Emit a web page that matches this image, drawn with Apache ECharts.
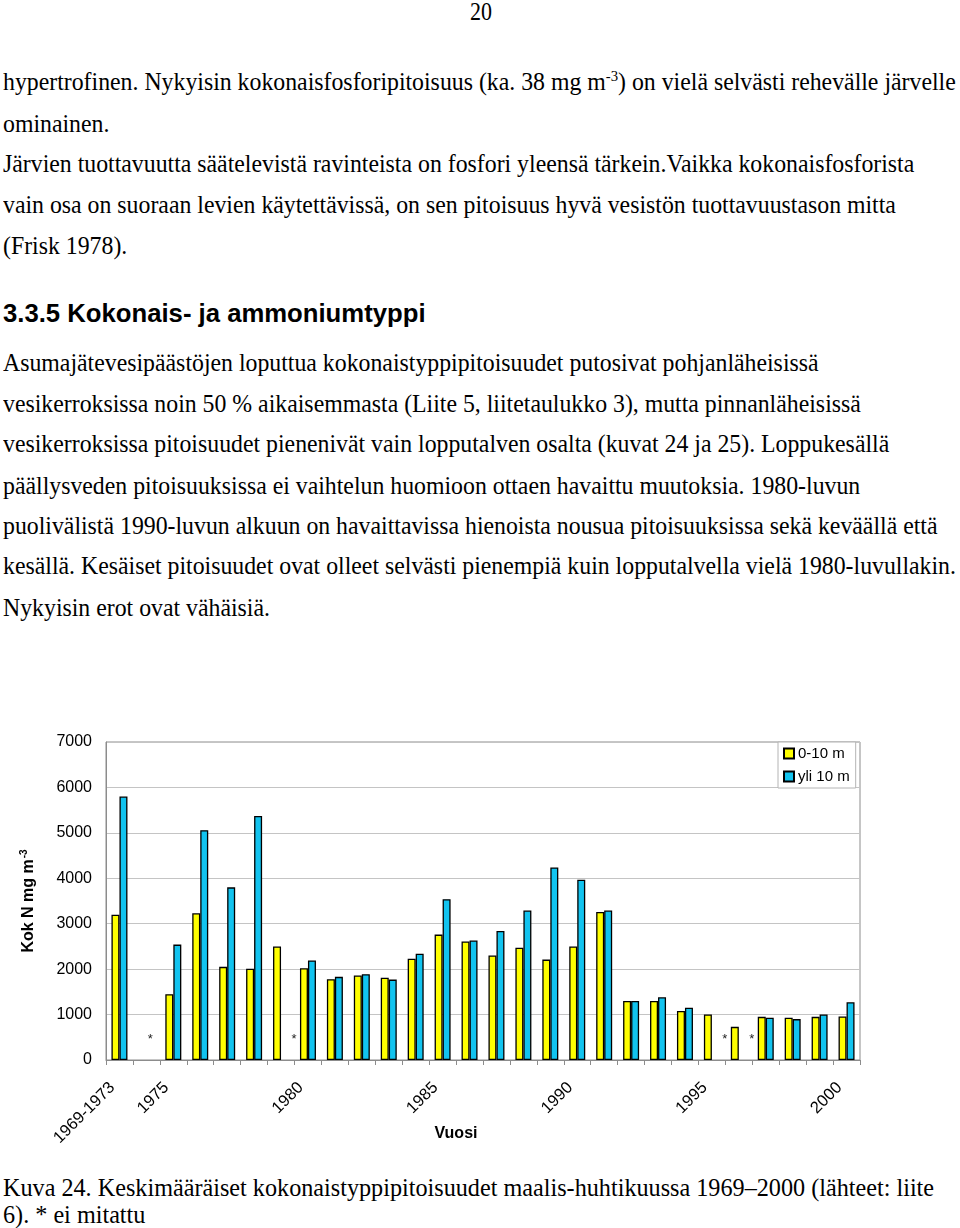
<!DOCTYPE html>
<html>
<head>
<meta charset="utf-8">
<script src="https://cdn.jsdelivr.net/npm/echarts@6/dist/echarts.min.js"></script>
<style>
  html, body { margin: 0; padding: 0; background: #fff; }
  body { width: 960px; height: 1228px; position: relative; overflow: hidden; }
  .ln { position: absolute; white-space: nowrap; color: #000; line-height: 1; }
  .serif { font-family: "Liberation Serif", "Times New Roman", serif; }
  .head { font-family: "Liberation Sans", Arial, sans-serif; font-weight: bold; }
  sup { font-size: 0.62em; vertical-align: 0.55em; line-height: 0; }
  #chart { position: absolute; left: 0; top: 700px; width: 960px; height: 470px; }
</style>
</head>
<body>
<div id="text"></div>
<div id="chart"></div>
<script>
// ---- chart data ----
const categories = ['1969-1973','1974','1975','1976','1977','1978','1979','1980','1981','1982','1983','1984','1985','1986','1987','1988','1989','1990','1991','1992','1993','1994','1995','1996','1997','1998','1999','2000'];
const shallow = [3200, null, 1450, 3230, 2050, 2010, 2500, 2020, 1780, 1860, 1810, 2230, 2760, 2610, 2300, 2470, 2210, 2500, 3260, 1300, 1300, 1080, 1000, 730, 950, 930, 950, 960];
const deep    = [5800, null, 2540, 5060, 3800, 5370, null, 2190, 1830, 1890, 1770, 2340, 3540, 2630, 2840, 3290, 4240, 3970, 3290, 1300, 1380, 1150, null, null, 930, 900, 1000, 1270];
const notMeasured = ['1974', '1979', '1995', '1996'];
const xTickLabels = ['1969-1973', '1975', '1980', '1985', '1990', '1995', '2000'];
const seriesNames = ['0-10 m', 'yli 10 m'];

// ---- page text ----
const BODY = 23.8, BODY_SY = 1.05;
const lines = [
  { cls: 'serif', size: 22, sy: 1.15, x: 470, base: 20, html: '20' },
  { cls: 'serif', size: BODY, sy: BODY_SY, x: 3, base: 91, html: 'hypertrofinen. Nykyisin kokonaisfosforipitoisuus (ka. 38 mg m<sup>-3</sup>) on vielä selvästi rehevälle järvelle' },
  { cls: 'serif', size: BODY, sy: BODY_SY, x: 3, base: 133, html: 'ominainen.' },
  { cls: 'serif', size: BODY, sy: BODY_SY, x: 3, base: 173, html: 'Järvien tuottavuutta säätelevistä ravinteista on fosfori yleensä tärkein.Vaikka kokonaisfosforista' },
  { cls: 'serif', size: BODY, sy: BODY_SY, x: 3, base: 214, html: 'vain osa on suoraan levien käytettävissä, on sen pitoisuus hyvä vesistön tuottavuustason mitta' },
  { cls: 'serif', size: BODY, sy: BODY_SY, x: 3, base: 255, html: '(Frisk 1978).' },
  { cls: 'head', size: 25.7, sy: 1.0, x: 3, base: 323, html: '3.3.5 Kokonais- ja ammoniumtyppi' },
  { cls: 'serif', size: BODY, sy: BODY_SY, x: 3, base: 372, html: 'Asumajätevesipäästöjen loputtua kokonaistyppipitoisuudet putosivat pohjanläheisissä' },
  { cls: 'serif', size: BODY, sy: BODY_SY, x: 3, base: 413, html: 'vesikerroksissa noin 50 % aikaisemmasta (Liite 5, liitetaulukko 3), mutta pinnanläheisissä' },
  { cls: 'serif', size: BODY, sy: BODY_SY, x: 3, base: 453, html: 'vesikerroksissa pitoisuudet pienenivät vain lopputalven osalta (kuvat 24 ja 25). Loppukesällä' },
  { cls: 'serif', size: BODY, sy: BODY_SY, x: 3, base: 495, html: 'päällysveden pitoisuuksissa ei vaihtelun huomioon ottaen havaittu muutoksia. 1980-luvun' },
  { cls: 'serif', size: BODY, sy: BODY_SY, x: 3, base: 535, html: 'puolivälistä 1990-luvun alkuun on havaittavissa hienoista nousua pitoisuuksissa sekä keväällä että' },
  { cls: 'serif', size: BODY, sy: BODY_SY, x: 3, base: 575, html: 'kesällä. Kesäiset pitoisuudet ovat olleet selvästi pienempiä kuin lopputalvella vielä 1980-luvullakin.' },
  { cls: 'serif', size: BODY, sy: BODY_SY, x: 3, base: 617, html: 'Nykyisin erot ovat vähäisiä.' },
  { cls: 'serif', size: 24.2, sy: 1.0, x: 3, base: 1196, html: 'Kuva 24. Keskimääräiset kokonaistyppipitoisuudet maalis-huhtikuussa 1969–2000 (lähteet: liite' },
  { cls: 'serif', size: 24.2, sy: 1.0, x: 3, base: 1223, html: '6). * ei mitattu' }
];
const textHost = document.getElementById('text');
lines.forEach(l => {
  const d = document.createElement('div');
  d.className = 'ln ' + l.cls;
  const asc = 0.8375 * l.size;
  d.style.fontSize = l.size + 'px';
  d.style.left = l.x + 'px';
  d.style.top = (l.base - asc) + 'px';
  d.style.transformOrigin = '0 ' + asc + 'px';
  d.style.transform = 'scaleY(' + l.sy + ')';
  d.innerHTML = l.html;
  textHost.appendChild(d);
});

// ---- chart ----
const chart = echarts.init(document.getElementById('chart'), null, { renderer: 'canvas' });
const FONT = '"Liberation Sans", Arial, sans-serif';
const barStyle = (color) => ({ color: color, borderColor: '#000', borderWidth: 1.3 });

const markData = notMeasured.map(c => {
  const i = categories.indexOf(c);
  const bothMissing = shallow[i] == null && deep[i] == null;
  return { coord: [c, 450], label: { offset: [bothMissing ? 0 : 9, 0] } };
});

chart.setOption({
  animation: false,
  textStyle: { fontFamily: FONT, color: '#000' },
  grid: { left: 106, top: 42, width: 754, height: 318, show: true, borderColor: '#8c8c8c', borderWidth: 1, backgroundColor: 'transparent' },
  legend: {
    data: seriesNames,
    orient: 'vertical',
    left: 778, top: 42,
    backgroundColor: '#fff',
    borderColor: '#b4b4b4', borderWidth: 1,
    padding: [4, 6, 4, 5],
    itemGap: 8,
    itemWidth: 10, itemHeight: 10,
    icon: 'rect',
    textStyle: { fontSize: 15, fontFamily: FONT, color: '#000', padding: [0, 0, 0, -1] }
  },
  xAxis: {
    type: 'category',
    data: categories,
    boundaryGap: true,
    name: 'Vuosi',
    nameLocation: 'middle',
    nameGap: 66,
    nameMoveOverlap: false,
    nameTextStyle: { fontWeight: 'bold', fontSize: 16, fontFamily: FONT, color: '#000', padding: [0, 54, 0, 0] },
    axisLine: { lineStyle: { color: '#8c8c8c', width: 1 } },
    axisTick: { show: true, interval: 0, length: 5, lineStyle: { color: '#8c8c8c' } },
    axisLabel: {
      interval: (idx, val) => xTickLabels.indexOf(val) >= 0,
      rotate: 45, fontSize: 16.5, fontFamily: FONT, color: '#000', margin: 18,
      padding: [0, 10, 0, 0]
    },
    splitLine: { show: false }
  },
  yAxis: {
    type: 'value',
    min: 0, max: 7000, interval: 1000,
    name: '{b|Kok N mg m}{s|-3}',
    nameLocation: 'middle',
    nameGap: 68,
    nameRotate: 90,
    nameTextStyle: {
      rich: {
        b: { fontWeight: 'bold', fontSize: 16, fontFamily: FONT, color: '#000' },
        s: { fontWeight: 'bold', fontSize: 10, fontFamily: FONT, color: '#000', padding: [0, 0, 9, 1] }
      }
    },
    axisLine: { show: true, lineStyle: { color: '#8c8c8c', width: 1 } },
    axisTick: { show: false },
    axisLabel: { fontSize: 16, fontFamily: FONT, color: '#000', margin: 14, formatter: (v) => String(v) },
    splitLine: { show: true, lineStyle: { color: '#c4c4c4', width: 1 } }
  },
  series: [
    {
      name: seriesNames[0], type: 'bar', data: shallow,
      barWidth: 8, barGap: '0%',
      itemStyle: barStyle('#ffff00')
    },
    {
      name: seriesNames[1], type: 'bar', data: deep,
      barWidth: 8, barGap: '0%',
      itemStyle: barStyle('#12c3ef'),
      markPoint: {
        symbol: 'circle', symbolSize: 1,
        itemStyle: { color: 'rgba(0,0,0,0)', borderWidth: 0 },
        label: { show: true, position: 'inside', formatter: '*', fontSize: 13, color: '#222', fontFamily: FONT },
        data: markData
      }
    }
  ]
});
</script>
</body>
</html>
